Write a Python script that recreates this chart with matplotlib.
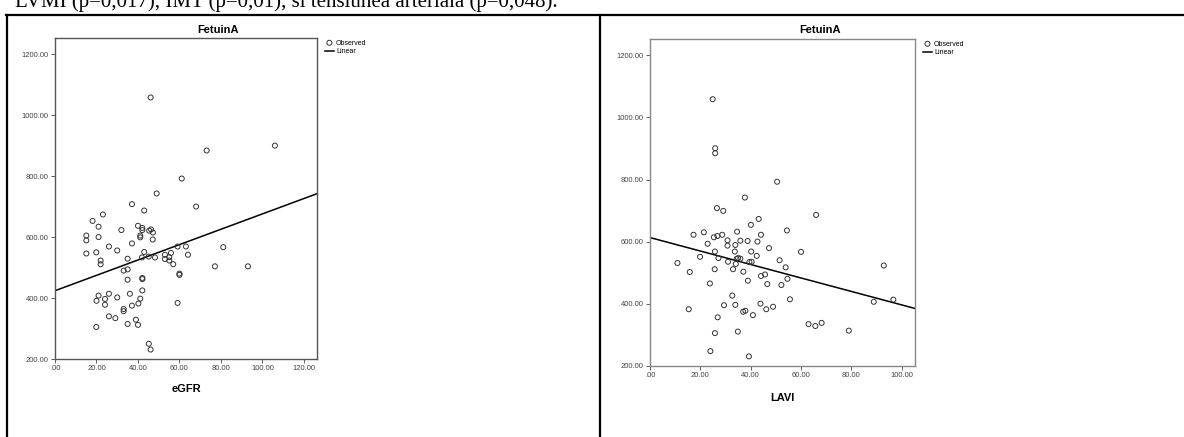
#!/usr/bin/env python
"""FetuinA vs eGFR and LAVI scatter plots with linear fit (SPSS style)"""

#%%
import numpy as np
import matplotlib.pyplot as plt
from matplotlib.lines import Line2D
from matplotlib.ticker import FuncFormatter

### Data ###
egfr = [46.1, 73.1, 106.0, 61.1, 49.0, 37.1, 68.0, 43.0, 23.1, 18.1, 21.0, 32.0, 40.0,
        42.1, 42.1, 45.4, 46.3, 47.2, 41.1, 41.1, 47.1, 15.1, 15.1, 21.0, 37.1, 26.0,
        30.0, 15.1, 19.9, 43.0, 41.9, 35.0, 45.2, 48.2, 22.0, 22.0, 53.0, 53.0, 55.9,
        55.1, 55.1, 57.0, 59.1, 63.1, 64.1, 81.1, 77.1, 93.0, 60.0, 60.0, 33.1, 35.0,
        35.0, 42.1, 42.1, 42.1, 36.1, 26.0, 21.0, 24.1, 24.1, 20.0, 30.0, 41.1, 40.2,
        37.1, 59.1, 33.1, 33.1, 26.0, 29.1, 39.0, 35.0, 40.0, 19.9, 45.2, 46.1]
fetuin_egfr = [1058, 884, 900, 792, 743, 708, 700, 687, 674, 653, 634, 623, 637,
               630, 623, 621, 625, 615, 605, 599, 592, 605, 589, 600, 579, 569,
               556, 546, 550, 551, 533, 529, 536, 533, 523, 511, 542, 528, 548,
               534, 523, 511, 569, 569, 542, 567, 504, 504, 480, 476, 490, 494,
               460, 466, 462, 425, 414, 414, 408, 397, 378, 391, 402, 398, 382,
               375, 384, 364, 357, 340, 334, 329, 315, 312, 305, 250, 231]

lavi = [24.9, 25.9, 25.9, 50.5, 37.7, 26.6, 29.1, 66.0, 43.2, 40.1, 54.4, 17.3, 21.4,
        25.4, 26.8, 28.7, 34.6, 44.1, 22.9, 30.8, 30.8, 33.9, 35.9, 38.8, 42.7, 33.7,
        40.2, 47.3, 60.0, 25.8, 27.2, 19.9, 10.9, 31.0, 34.4, 35.0, 35.9, 34.1, 39.5,
        40.4, 42.4, 51.5, 53.9, 25.7, 33.0, 37.1, 15.8, 44.1, 45.7, 54.6, 23.8, 38.9,
        46.6, 52.2, 55.6, 92.9, 88.9, 96.7, 32.7, 29.4, 33.9, 15.4, 37.0, 37.9, 40.9,
        43.9, 46.2, 48.9, 26.9, 63.0, 65.7, 68.2, 79.0, 25.8, 34.9, 24.0, 39.3]
fetuin_lavi = [1059, 901, 885, 793, 742, 708, 699, 686, 673, 654, 636, 622, 630,
               614, 618, 622, 632, 622, 593, 604, 587, 589, 603, 602, 600, 568,
               568, 579, 567, 568, 547, 551, 531, 535, 544, 547, 545, 528, 534,
               535, 554, 540, 517, 511, 511, 503, 502, 489, 494, 480, 465, 474,
               463, 460, 414, 523, 406, 413, 426, 395, 396, 382, 374, 377, 363,
               400, 382, 390, 356, 334, 328, 338, 313, 305, 310, 247, 230]

# linear fit lines as drawn in the picture (intercept, slope)
fit_egfr = (424, 2.52)
fit_lavi = (613, -2.17)

#%%
### Figure and table frame ###
W, H = 1184, 437
fig = plt.figure(figsize=(W / 100, H / 100), dpi=100)

narrow = ['Liberation Sans Narrow', 'Liberation Sans', 'DejaVu Sans']

top = 1 - 15 / H
for xs, ys in [([6 / W, 1], [top, top]),
               ([6.5 / W, 6.5 / W], [0, top]),
               ([600 / W, 600 / W], [0, top])]:
    fig.add_artist(Line2D(xs, ys, transform=fig.transFigure, color='black', lw=1.6))

# sentence above the table, cut off by the top edge as in the page scan
fig.text(15 / W, 1 - 7 / H, "LVMI (p=0,017), IMT (p=0,01), si tensiunea arteriala (p=0,048).",
         fontsize=15, family='Liberation Serif', va='baseline', ha='left')


def fmt(v, pos):
    s = f"{v:.2f}"
    return s[1:] if s.startswith("0") else s


def scatter_panel(rect, x, y, fit, xmax, xlabel, title_x, labelpad, spine_col):
    ax = fig.add_axes([rect[0] / W, 1 - rect[3] / H, (rect[2] - rect[0]) / W, (rect[3] - rect[1]) / H])
    pts = ax.scatter(x, y, s=13, facecolors='none', edgecolors='#333333', linewidths=0.7, zorder=3)
    xl = np.array([0, xmax])
    ln, = ax.plot(xl, fit[0] + fit[1] * xl, color='black', lw=1.1, zorder=2)
    ax.set_xlim(0, xmax)
    ax.set_ylim(200, 1253)
    ax.set_xticks(np.arange(0, xmax, 20))
    ax.set_yticks(np.arange(200, 1201, 200))
    ax.xaxis.set_major_formatter(FuncFormatter(fmt))
    ax.yaxis.set_major_formatter(FuncFormatter(fmt))
    ax.tick_params(direction='out', length=3, width=0.6, colors='#444444', labelsize=5.5, pad=1.5)
    for lab in ax.get_xticklabels() + ax.get_yticklabels():
        lab.set_family(narrow)
    for sp in ax.spines.values():
        sp.set_color(spine_col)
        sp.set_linewidth(1.0)
    ax.set_xlabel(xlabel, fontsize=8, fontweight='bold', family=narrow, labelpad=labelpad)
    fig.text(title_x / W, 1 - 30 / H, "FetuinA", fontsize=8, fontweight='bold',
             family=narrow, ha='center', va='center')
    ax.legend([pts, ln], ["Observed", "Linear"], loc='upper left', bbox_to_anchor=(1.03, 0.995),
              frameon=False, prop={'family': narrow, 'size': 5}, handlelength=1.3,
              handletextpad=0.3, labelspacing=0.25, borderpad=0, borderaxespad=0)
    return ax


ax1 = scatter_panel((55, 38, 317, 359), egfr, fetuin_egfr, fit_egfr, 126.3, "eGFR", 218, 8.5, '#555555')
ax2 = scatter_panel((650, 39, 915, 365.7), lavi, fetuin_lavi, fit_lavi, 105.3, "LAVI", 820, 10, '#888888')

fig.savefig("out.png", dpi=100)
